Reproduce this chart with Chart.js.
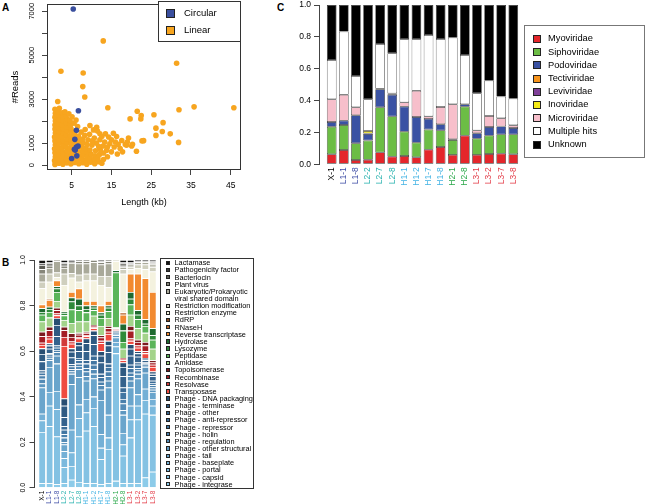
<!DOCTYPE html>
<html>
<head>
<meta charset="utf-8">
<script src="https://cdn.jsdelivr.net/npm/chart.js@4.4.1/dist/chart.umd.min.js"></script>
<style>
  html, body { margin: 0; padding: 0; background: #fff; }
  #page { position: relative; width: 646px; height: 504px; overflow: hidden; font-family: "Liberation Sans", Arial, sans-serif; color: #000; }
  .panel { position: absolute; }
  .tag { position: absolute; font-weight: bold; font-size: 10px; line-height: 10px; }
  .legend { position: absolute; box-sizing: border-box; background: #fff; }
  .item { position: absolute; white-space: nowrap; color: #000; filter: grayscale(1); }
  .sw { position: absolute; box-sizing: border-box; }
</style>
</head>
<body>
<div id="page">
  <div class="tag" style="left:2px;top:3px;">A</div>
  <div class="tag" style="left:277px;top:3px;">C</div>
  <div class="tag" style="left:2px;top:258px;">B</div>
  <div class="panel" style="left:0;top:0;"><canvas id="scatterA" width="250" height="212"></canvas></div>
  <div class="panel" style="left:290px;top:0;"><canvas id="familyC" width="236" height="200"></canvas></div>
  <div class="panel" style="left:0;top:250px;"><canvas id="functionB" width="161" height="254"></canvas></div>
  <div id="legendA" class="legend" style="left:158px;top:1px;width:83px;height:41px;border:1px solid #333;"></div>
  <div id="legendC" class="legend" style="left:524px;top:25px;width:121px;height:133px;border:1px solid #777;"></div>
  <div id="legendB" class="legend" style="left:160px;top:258px;width:94px;height:231px;border:1px solid #333;"></div>
</div>
<script>
// ---------- panel A: contig length vs reads ----------
const circLen   = [5.4, 6.7, 6.2, 5.8, 6.6, 6.2, 5.7, 5.9, 6.3, 5.0];
const circReads = [7100, 2470, 1580, 1170, 860, 820, 720, 680, 420, 300];

const linLen = [
  0.8, 0.7, 0.9, 0.8, 0.7, 0.9, 0.8, 0.7, 0.9, 0.8, 0.8, 0.9, 0.8, 0.9, 0.8,
  1.8, 1.7, 1.9, 1.8, 1.6, 1.9, 1.8, 1.7, 1.9, 1.8, 1.7, 1.9, 1.8, 1.6, 1.9,
  2.8, 2.7, 2.9, 2.8, 2.6, 2.9, 2.8, 2.7, 2.9, 2.8, 2.7, 2.9, 2.8, 2.6,
  3.8, 3.7, 3.9, 3.8, 3.6, 3.9, 3.8, 3.7, 3.9, 3.8, 3.7, 3.9, 3.6,
  4.8, 4.7, 4.9, 4.8, 4.6, 4.9, 4.8, 4.7, 4.9, 4.8, 4.7, 4.6,
  5.8, 5.7, 5.9, 5.8, 5.6, 5.9, 5.8, 5.7, 5.9,
  6.8, 6.7, 6.9, 6.8, 6.6, 6.9, 6.8, 6.7,
  7.8, 7.7, 7.9, 7.8, 7.6, 7.9, 7.7,
  8.8, 8.7, 8.9, 8.8, 8.6, 8.9,
  9.8, 9.7, 9.9, 9.6,
  10.8, 10.7, 10.9, 11.8, 11.6, 12.6,
  3.3, 4.3, 5.1, 6.1, 5.6, 6.5, 7.4, 8.3, 9.1, 10.1, 11.0, 12.0, 13.0,
  12.95, 2.3, 7.9, 7.8, 8.3, 1.5, 31.4, 14.1, 35.8, 45.8, 32.0, 21.5, 22.5, 25.7,
  22.4, 19.7, 28.0, 26.2, 9.6, 27.8, 26.2, 29.8, 19.3, 23.1, 22.7, 31.9, 21.3,
  11.3, 8.4, 10.7, 12.1, 13.5, 15.5, 16.3, 17.6, 18.5, 12.1, 14.6, 16.7, 12.9,
  15.7, 13.8, 17.2, 18.8, 20.1, 11.5, 12.6, 14.3, 15.0, 16.0, 13.3, 14.0, 11.2,
  10.2, 9.5, 10.5, 13.0, 15.0, 16.5, 14.0, 12.2, 17.8, 19.0, 20.3, 11.8
];
const linReads = [
  30, 200, 380, 560, 740, 920, 1100, 1280, 1460, 1640, 1820, 2000, 2180, 2360, 2540,
  80, 260, 450, 630, 810, 990, 1170, 1350, 1530, 1710, 1890, 2070, 2250, 2430, 2580,
  40, 220, 400, 580, 760, 940, 1120, 1300, 1480, 1660, 1840, 2020, 2200, 2380,
  100, 290, 470, 650, 830, 1010, 1190, 1370, 1550, 1730, 1910, 2090, 2250,
  50, 230, 410, 590, 770, 950, 1130, 1310, 1490, 1670, 1850, 2030,
  120, 300, 480, 660, 840, 1020, 1200, 1380, 1560,
  60, 240, 420, 600, 780, 960, 1140, 1320,
  110, 290, 470, 650, 830, 1010, 1180,
  40, 220, 400, 580, 760, 930,
  130, 310, 490, 680,
  60, 240, 420, 150, 300, 80,
  2420, 2330, 2200, 2050, 1900, 1750, 1500, 1350, 1150, 900, 650, 480, 250,
  5650, 4270, 4190, 3570, 3100, 2890, 4630, 2610, 2650, 2610, 2520, 2450, 2250, 2290,
  2100, 2100, 1930, 1680, 1800, 1530, 1350, 1420, 1230, 1110, 1100, 1030, 630,
  1720, 1620, 1230, 1420, 1420, 1450, 1300, 1120, 940, 1150, 970, 940, 870,
  820, 670, 750, 900, 870, 1550, 1300, 1280, 1150, 1050, 1050, 820, 1000,
  1100, 1400, 1600, 550, 600, 500, 380, 700, 600, 1050, 950, 850
];
const lenTicks = [5, 15, 25, 35, 45];
const readTicks = [0, 1000, 2000, 3000, 4000, 5000, 6000, 7000];
const readLabels = [0, 1000, 3000, 5000, 7000];

// ---------- samples shared by B and C ----------
const samples = ['X-1', 'L1-1', 'L1-8', 'L2-2', 'L2-7', 'L2-8', 'H1-1', 'H1-2', 'H1-7', 'H1-8', 'H2-1', 'H2-8', 'L3-1', 'L3-2', 'L3-7', 'L3-8'];
const sampleColors = ['#000000', '#3f4ea6', '#3f4ea6', '#2bb3b0', '#2bb3b0', '#2bb3b0', '#45b4e4', '#45b4e4', '#45b4e4', '#45b4e4', '#2aa84a', '#2aa84a', '#e33b47', '#e33b47', '#e33b47', '#e33b47'];
const fracTicks = [0, 0.2, 0.4, 0.6, 0.8, 1.0];

// ---------- panel C: phage families ----------
const myoviridae    = [0.063, 0.090, 0.027, 0.029, 0.075, 0.048, 0.052, 0.044, 0.092, 0.109, 0.059, 0.180, 0.059, 0.065, 0.067, 0.063];
const siphoviridae  = [0.173, 0.157, 0.105, 0.120, 0.283, 0.253, 0.153, 0.092, 0.126, 0.104, 0.094, 0.182, 0.102, 0.115, 0.121, 0.125];
const podoviridae   = [0.030, 0.027, 0.176, 0.041, 0.113, 0.136, 0.157, 0.161, 0.067, 0.038, 0.004, 0.015, 0.034, 0.054, 0.050, 0.040];
const tectiviridae  = [0, 0, 0, 0.004, 0, 0, 0, 0, 0, 0, 0, 0, 0, 0, 0, 0];
const leviviridae   = [0, 0, 0, 0, 0, 0, 0, 0, 0, 0, 0, 0, 0, 0, 0, 0];
const inoviridae    = [0, 0, 0, 0.015, 0, 0, 0, 0, 0, 0, 0, 0, 0, 0, 0, 0];
const microviridae  = [0.142, 0.163, 0.050, 0, 0.004, 0.007, 0.027, 0.165, 0.016, 0.109, 0.220, 0, 0.018, 0.069, 0.051, 0.017];
const multipleHits  = [0.247, 0.396, 0.196, 0.199, 0.280, 0.253, 0.396, 0.323, 0.511, 0.427, 0.418, 0.309, 0.233, 0.222, 0.136, 0.167];
const unknownFam    = [0.345, 0.167, 0.446, 0.592, 0.245, 0.303, 0.215, 0.215, 0.188, 0.213, 0.205, 0.314, 0.554, 0.475, 0.575, 0.588];
const familyNames = ['Myoviridae', 'Siphoviridae', 'Podoviridae', 'Tectiviridae', 'Leviviridae', 'Inoviridae', 'Microviridae', 'Multiple hits', 'Unknown'];
const familyColors = ['#e4262b', '#6cbd45', '#3a52a3', '#f7941d', '#7f3f98', '#f4ea16', '#f7bfcb', '#ffffff', '#000000'];
const familyValues = [myoviridae, siphoviridae, podoviridae, tectiviridae, leviviridae, inoviridae, microviridae, multipleHits, unknownFam];

// ---------- panel B: gene functions (legend order, top of stack first) ----------
const lactamase      = [0.015, 0.010, 0, 0.010, 0.008, 0, 0, 0, 0, 0, 0, 0.010, 0.010, 0.005, 0.005, 0.005];
const pathogenicity  = [0.007, 0.005, 0, 0.005, 0, 0, 0, 0, 0.005, 0, 0, 0.005, 0.005, 0, 0, 0.005];
const bacteriocin    = [0.018, 0.010, 0, 0.010, 0, 0.005, 0.005, 0, 0.005, 0.005, 0, 0.010, 0.005, 0.005, 0.005, 0.005];
const plantVirus     = [0.020, 0.010, 0.005, 0.010, 0.005, 0.010, 0.010, 0.010, 0.010, 0.010, 0, 0.005, 0, 0, 0, 0.005];
const eukProk        = [0.035, 0.025, 0.050, 0.025, 0.045, 0.050, 0.045, 0.050, 0.050, 0.055, 0, 0.010, 0.010, 0.010, 0.010, 0.010];
const restrictMod    = [0.029, 0.035, 0.020, 0.050, 0.020, 0.030, 0.030, 0.030, 0.040, 0.050, 0.005, 0.020, 0.010, 0.015, 0.020, 0.020];
const restrictEnz    = [0.071, 0.075, 0.015, 0.117, 0.062, 0.030, 0.090, 0.090, 0.090, 0.060, 0.040, 0.170, 0.020, 0.025, 0.040, 0.090];
const rdrp           = [0, 0, 0, 0, 0, 0, 0, 0, 0, 0, 0, 0, 0, 0, 0, 0];
const rnaseH         = [0, 0.005, 0, 0, 0, 0, 0, 0, 0, 0, 0, 0.010, 0, 0, 0, 0];
const revTrans       = [0.017, 0.030, 0.025, 0, 0.025, 0.045, 0.020, 0.020, 0.030, 0.020, 0, 0.040, 0.080, 0.160, 0.180, 0.160];
const hydrolase      = [0.016, 0.010, 0.010, 0.006, 0.017, 0.030, 0.015, 0.010, 0.010, 0.010, 0.010, 0.030, 0.030, 0.020, 0.020, 0.030];
const lysozyme       = [0.012, 0.013, 0.015, 0.010, 0.035, 0.020, 0.015, 0.010, 0.015, 0.015, 0, 0.050, 0.025, 0.020, 0.010, 0.020];
const peptidase      = [0.030, 0.025, 0.040, 0.020, 0.060, 0.050, 0.040, 0.025, 0.035, 0.030, 0.240, 0.030, 0.045, 0.040, 0.030, 0.040];
const amidase        = [0.045, 0.040, 0.030, 0.030, 0.045, 0.050, 0.045, 0.040, 0.040, 0.035, 0.005, 0.040, 0.050, 0.050, 0.040, 0.050];
const topoisomerase  = [0.020, 0.015, 0.010, 0.015, 0.016, 0.008, 0.005, 0.005, 0.010, 0.010, 0, 0, 0.020, 0.010, 0.015, 0.010];
const recombinase    = [0.028, 0.026, 0.015, 0.030, 0.020, 0.012, 0.010, 0.005, 0.015, 0.015, 0.005, 0.005, 0.035, 0.015, 0.025, 0.010];
const resolvase      = [0.010, 0.012, 0.008, 0.040, 0.010, 0.005, 0.005, 0.005, 0.010, 0.010, 0, 0.005, 0.010, 0.010, 0.010, 0.010];
const transposase    = [0.015, 0.020, 0.012, 0.230, 0.020, 0.015, 0.010, 0.010, 0.035, 0.030, 0.005, 0.010, 0.015, 0.015, 0.020, 0.020];
const dnaPackaging   = [0.025, 0.010, 0.030, 0.032, 0.015, 0.015, 0.020, 0.020, 0.020, 0.020, 0, 0.020, 0.020, 0.010, 0.005, 0.010];
const terminase      = [0.032, 0.014, 0.050, 0.050, 0.025, 0.025, 0.035, 0.040, 0.030, 0.030, 0.005, 0.040, 0.030, 0.015, 0.005, 0.010];
const phageOther     = [0.040, 0.020, 0.040, 0.040, 0.030, 0.030, 0.040, 0.050, 0.050, 0.050, 0.005, 0.050, 0.040, 0.025, 0.010, 0.020];
const antiRepressor  = [0.010, 0.005, 0.010, 0.015, 0.010, 0.010, 0.015, 0.020, 0.015, 0.015, 0, 0.020, 0.015, 0.010, 0.005, 0.010];
const repressor      = [0.012, 0.010, 0.010, 0.020, 0.012, 0.015, 0.020, 0.020, 0.020, 0.020, 0.005, 0.030, 0.020, 0.015, 0.005, 0.010];
const holin          = [0.015, 0.005, 0.010, 0.015, 0.010, 0.010, 0.015, 0.020, 0.015, 0.020, 0, 0.020, 0.015, 0.010, 0.005, 0.010];
const regulation     = [0.020, 0.010, 0.015, 0.020, 0.010, 0.015, 0.020, 0.020, 0.020, 0.020, 0.005, 0.030, 0.020, 0.015, 0.005, 0.010];
const otherStruct    = [0.018, 0.030, 0.035, 0.010, 0.045, 0.035, 0.020, 0.020, 0.045, 0.030, 0.010, 0.020, 0.030, 0.020, 0.025, 0.010];
const tail           = [0.115, 0.110, 0.120, 0.030, 0.200, 0.120, 0.080, 0.080, 0.150, 0.120, 0.020, 0.080, 0.080, 0.070, 0.070, 0.030];
const baseplate      = [0.030, 0.060, 0.080, 0.030, 0.100, 0.060, 0.060, 0.050, 0.060, 0.100, 0.020, 0.050, 0.060, 0.050, 0.050, 0.030];
const portal         = [0.050, 0.090, 0.120, 0.040, 0.060, 0.080, 0.080, 0.080, 0.050, 0.050, 0.030, 0.050, 0.080, 0.060, 0.060, 0.040];
const capsid         = [0.225, 0.250, 0.210, 0.070, 0.060, 0.200, 0.230, 0.250, 0.110, 0.150, 0.560, 0.120, 0.200, 0.280, 0.280, 0.250];
const integrase      = [0.020, 0.020, 0.015, 0.020, 0.035, 0.025, 0.020, 0.020, 0.015, 0.020, 0.030, 0.020, 0.020, 0.020, 0.045, 0.070];

const functionNames = ['Lactamase', 'Pathogenicity factor', 'Bacteriocin', 'Plant virus', 'Eukaryotic/Prokaryotic\nviral shared domain',
  'Restriction modification', 'Restriction enzyme', 'RdRP', 'RNaseH', 'Reverse transcriptase', 'Hydrolase', 'Lysozyme', 'Peptidase',
  'Amidase', 'Topoisomerase', 'Recombinase', 'Resolvase', 'Transposase', 'Phage - DNA packaging', 'Phage - terminase', 'Phage - other',
  'Phage - anti-repressor', 'Phage - repressor', 'Phage - holin', 'Phage - regulation', 'Phage - other structural', 'Phage - tail',
  'Phage - baseplate', 'Phage - portal', 'Phage - capsid', 'Phage - integrase'];
const functionColors = ['#111111', '#3a3a3a', '#5c5c55', '#86867a', '#a9a99a', '#cfcfbe', '#f4f2df', '#8a4a22', '#b8642a', '#f28a30',
  '#1e6a30', '#2f8a3a', '#5bb55a', '#a3d38a', '#7a1a1e', '#a41d24', '#d23a3a', '#ef4a40', '#284e72', '#2f5a82', '#35628c', '#3b6b96',
  '#4276a2', '#4a80ac', '#548bb6', '#5e97c0', '#6aa5cc', '#74b0d6', '#7bb9dd', '#84c2e3', '#8ccbe9'];
const functionValues = [lactamase, pathogenicity, bacteriocin, plantVirus, eukProk, restrictMod, restrictEnz, rdrp, rnaseH, revTrans,
  hydrolase, lysozyme, peptidase, amidase, topoisomerase, recombinase, resolvase, transposase, dnaPackaging, terminase, phageOther,
  antiRepressor, repressor, holin, regulation, otherStruct, tail, baseplate, portal, capsid, integrase];

Chart.defaults.font.family = '"Liberation Sans", Arial, sans-serif';
Chart.defaults.color = '#000';

const axisGrid = { display: true, drawOnChartArea: false, drawTicks: true, tickLength: 5, color: '#444' };
const noGrid = { display: false, drawTicks: false };

const boxPlugin = {
  id: 'boxA',
  afterDraw(chart) {
    const { ctx, chartArea: a } = chart;
    ctx.save();
    ctx.strokeStyle = '#333';
    ctx.lineWidth = 1;
    ctx.strokeRect(a.left + 0.5, a.top + 0.5, a.right - a.left - 1, a.bottom - a.top - 1);
    ctx.restore();
  }
};

// bars sit on a numeric x axis so the axis can be padded like R's barplot
function sampleAxis(fontSize, height) {
  return {
    type: 'linear', stacked: true, offset: false, min: -1.05, max: 16.05,
    grid: noGrid, border: { display: false },
    afterBuildTicks: s => { s.ticks = samples.map((n, i) => ({ value: i })); },
    afterFit: s => { s.height = height; s.paddingLeft = 0; s.paddingRight = 0; },
    ticks: {
      font: { size: fontSize }, padding: 3, autoSkip: false, minRotation: 90, maxRotation: 90,
      callback: v => samples[v], color: c => sampleColors[c.index]
    }
  };
}

// A
new Chart(document.getElementById('scatterA'), {
  type: 'scatter',
  data: {
    datasets: [
      { label: 'Circular', data: circLen.map((x, i) => ({ x: x, y: circReads[i] })), backgroundColor: '#3a4f9e', pointRadius: 2.8, pointBorderWidth: 0 },
      { label: 'Linear', data: linLen.map((x, i) => ({ x: x, y: linReads[i] })), backgroundColor: '#f7a51f', pointRadius: 2.8, pointBorderWidth: 0 }
    ]
  },
  options: {
    responsive: false, animation: false,
    layout: { padding: { top: 2, right: 9, left: 0, bottom: 0 } },
    plugins: { legend: { display: false }, tooltip: { enabled: false } },
    scales: {
      x: {
        type: 'linear', min: -1.2, max: 47.6,
        afterBuildTicks: s => { s.ticks = lenTicks.map(v => ({ value: v })); },
        afterFit: s => { s.height = 42; s.paddingLeft = 0; s.paddingRight = 0; },
        grid: axisGrid, border: { display: false },
        ticks: { font: { size: 8.5 }, padding: 6, autoSkip: false, maxRotation: 0 },
        title: { display: true, text: 'Length (kb)', font: { size: 9 }, padding: { top: 0, bottom: 4.5 } }
      },
      y: {
        type: 'linear', min: -225, max: 7330,
        afterBuildTicks: s => { s.ticks = readTicks.map(v => ({ value: v })); },
        afterFit: s => { s.width = 47; s.paddingTop = 0; s.paddingBottom = 0; },
        grid: axisGrid, border: { display: false },
        ticks: {
          font: { size: 7.5 }, padding: 1.5, autoSkip: false, minRotation: 90, maxRotation: 90, crossAlign: 'center',
          callback: v => readLabels.includes(v) ? String(v) : ''
        },
        title: { display: true, text: '#Reads', font: { size: 9.5 }, padding: { top: 10, bottom: 0 } }
      }
    }
  },
  plugins: [boxPlugin]
});

// C
new Chart(document.getElementById('familyC'), {
  type: 'bar',
  data: {
    datasets: familyNames.map((name, i) => ({
      label: name, data: familyValues[i].map((v, j) => ({ x: j, y: v })), backgroundColor: familyColors[i],
      borderColor: '#333', borderWidth: 0.7, borderSkipped: false,
      barPercentage: 0.8, categoryPercentage: 1
    }))
  },
  options: {
    responsive: false, animation: false,
    layout: { padding: { top: 5, right: 0, left: 0, bottom: 0 } },
    plugins: { legend: { display: false }, tooltip: { enabled: false } },
    scales: {
      x: sampleAxis(8.5, 35.7),
      y: {
        stacked: true, min: 0, max: 1,
        afterBuildTicks: s => { s.ticks = fracTicks.map(v => ({ value: v })); },
        afterFit: s => { s.width = 29; s.paddingTop = 0; s.paddingBottom = 0; },
        grid: axisGrid, border: { display: true, color: '#444' },
        ticks: { font: { size: 8.5 }, padding: 3, autoSkip: false, callback: v => v.toFixed(1) }
      }
    }
  }
});

// B (stack bottom-up, so reverse the legend order)
const stackOrder = functionNames.map((n, i) => i).reverse();
new Chart(document.getElementById('functionB'), {
  type: 'bar',
  data: {
    datasets: stackOrder.map(i => ({
      label: functionNames[i], data: functionValues[i].map((v, j) => ({ x: j, y: v })), backgroundColor: functionColors[i],
      borderColor: '#ffffff', borderWidth: { top: 0.8, bottom: 0, left: 0, right: 0 }, borderSkipped: false,
      barPercentage: 0.84, categoryPercentage: 1
    }))
  },
  options: {
    responsive: false, animation: false,
    layout: { padding: { top: 10, right: 0.5, left: 0, bottom: 0 } },
    plugins: { legend: { display: false }, tooltip: { enabled: false } },
    scales: {
      x: sampleAxis(6.5, 16.3),
      y: {
        stacked: true, min: 0, max: 1,
        afterBuildTicks: s => { s.ticks = fracTicks.map(v => ({ value: v })); },
        afterFit: s => { s.width = 34.5; s.paddingTop = 0; s.paddingBottom = 0; },
        grid: axisGrid, border: { display: true, color: '#444' },
        ticks: { font: { size: 7 }, padding: 1.1, autoSkip: false, minRotation: 90, maxRotation: 90, crossAlign: 'center', callback: v => v.toFixed(1) }
      }
    }
  }
});

// html legends
function addItem(box, text, color, o) {
  const sw = document.createElement('div');
  sw.className = 'sw';
  sw.style.cssText = `left:${o.sx}px;top:${o.sy}px;width:${o.size}px;height:${o.size}px;background:${color};border:${o.bw}px solid #222;`;
  box.appendChild(sw);
  const t = document.createElement('div');
  t.className = 'item';
  t.style.cssText = `left:${o.tx}px;top:${o.ty}px;font-size:${o.font}px;line-height:${o.lh}px;`;
  t.innerHTML = text.replace('\n', '<br>');
  box.appendChild(t);
}

const legA = document.getElementById('legendA');
[['Circular', '#3a4f9e'], ['Linear', '#f7a51f']].forEach((it, i) => {
  addItem(legA, it[0], it[1], { sx: 7, sy: 6.5 + i * 17, size: 9, bw: 0.8, tx: 25, ty: 5 + i * 17, lh: 12, font: 9.5 });
});

const legC = document.getElementById('legendC');
familyNames.forEach((name, i) => {
  addItem(legC, name, familyColors[i], { sx: 8, sy: 9 + i * 13.2, size: 8, bw: 0.8, tx: 23, ty: 6.4 + i * 13.2, lh: 13.2, font: 9.3 });
});

const legB = document.getElementById('legendB');
let row = 0;
functionNames.forEach((name, i) => {
  addItem(legB, name, functionColors[i], { sx: 5, sy: 1.8 + row * 7.14, size: 4.2, bw: 0.7, tx: 13.5, ty: 0.3 + row * 7.14, lh: 7.14, font: 7.35 });
  row += name.includes('\n') ? 2 : 1;
});
</script>
</body>
</html>
